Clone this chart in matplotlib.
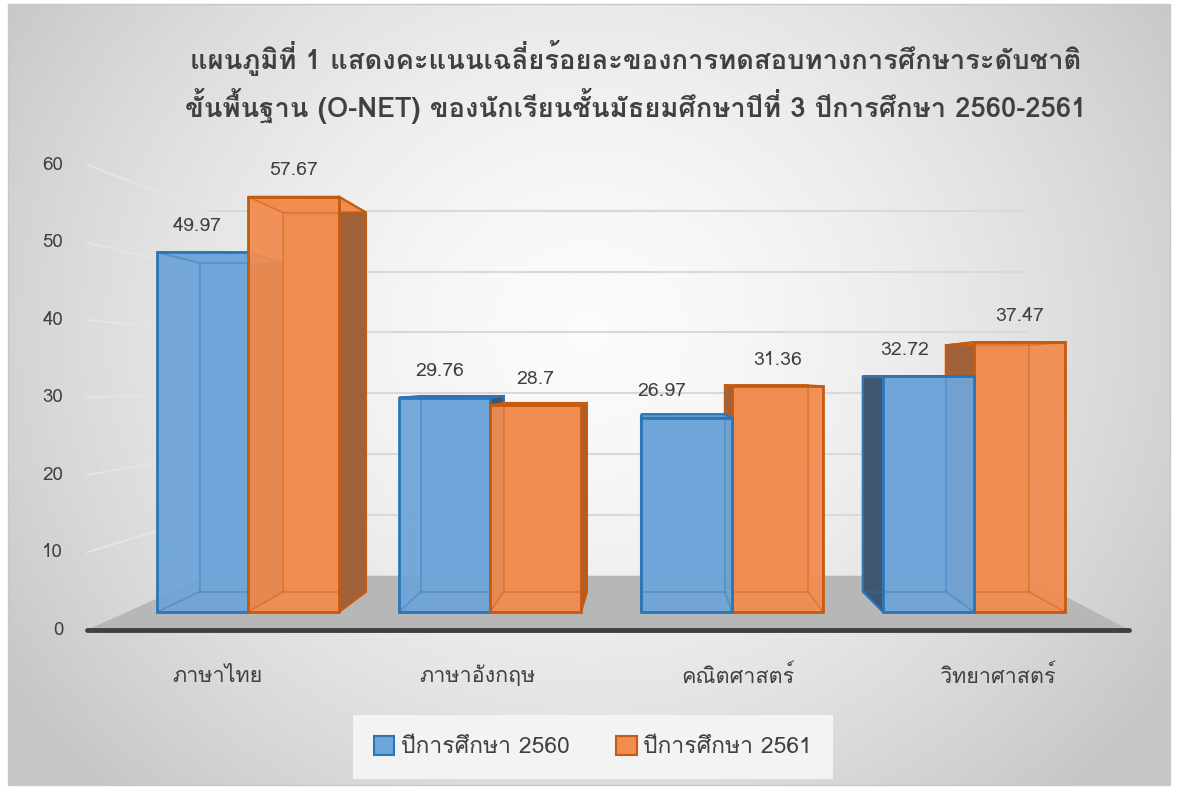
import numpy as np
import matplotlib
matplotlib.use("Agg")
import matplotlib.pyplot as plt
from matplotlib import font_manager
from matplotlib.ft2font import FT2Font
from matplotlib.patches import Polygon, Rectangle, Patch

# ---- data ----
categories = ["ภาษาไทย", "ภาษาอังกฤษ", "คณิตศาสตร์", "วิทยาศาสตร์"]
series_names = ["ปีการศึกษา 2560", "ปีการศึกษา 2561"]
scores_2560 = [49.97, 29.76, 26.97, 32.72]
scores_2561 = [57.67, 28.7, 31.36, 37.47]
yticks = [0, 10, 20, 30, 40, 50, 60]
title = ("แผนภูมิที่ 1 แสดงคะแนนเฉลี่ยร้อยละของการทดสอบทางการศึกษาระดับชาติ\n"
         "ขั้นพื้นฐาน (O-NET) ของนักเรียนชั้นมัธยมศึกษาปีที่ 3 ปีการศึกษา 2560-2561")

# ---- find a font that has Thai glyphs ----
thai_font = None
for f in font_manager.fontManager.ttflist:
    try:
        if ord("ก") in FT2Font(f.fname).get_charmap():
            thai_font = f.name
            break
    except Exception:
        pass
fams = [thai_font, "DejaVu Sans"] if thai_font else ["DejaVu Sans"]
plt.rcParams["font.family"] = fams

# ---- 3d look: simple perspective towards a vanishing point ----
VX, VY = 1.66, 32.5          # vanishing point (category units, value units)
S_TICK, S_FRONT, S_BACK, S_WALL = 1.076, 1.0, 0.913, 0.845
BAR_W = 0.376


def P(x, y, s):
    return (VX + (x - VX) * s, VY + (y - VY) * s)


W, H = 1178, 789
fig = plt.figure(figsize=(W / 100, H / 100), dpi=100)

# background gradient
bg = fig.add_axes([8 / W, 4 / H, 1 - 16 / W, 1 - 8 / H], zorder=-5)
yy, xx = np.mgrid[0:1:300j, 0:1:450j]
d = np.sqrt(((xx - 0.5) / 0.55) ** 2 + ((yy - 0.42) / 0.75) ** 2)
g = np.clip(0.985 - 0.18 * d ** 1.6, 0.78, 1)
bg.imshow(np.dstack([g, g, g]), aspect="auto", extent=[0, 1, 1, 0])
bg.axis("off")
fig.patches.append(Rectangle((8 / W, 4 / H), 1 - 16 / W, 1 - 8 / H, transform=fig.transFigure,
                             fill=False, edgecolor="#c8c8c8", lw=1))

ax = fig.add_axes([0, 0, 1, 1])
ax.set_facecolor("none")
ax.set_xlim((0 - 248) / 242, (W - 248) / 242)
ax.set_ylim((612 - H) / 7.2, 612 / 7.2)
ax.axis("off")

n = len(categories)
xl, xr = -0.5, n - 0.5

# floor
floor = [P(xl, 0, S_TICK), P(xr, 0, S_TICK), P(xr, 0, S_WALL), P(xl, 0, S_WALL)]
ax.add_patch(Polygon(floor, closed=True, facecolor="#b7b7b7", edgecolor="none", zorder=1))
fx0, fy0 = P(xl, 0, S_TICK)
fx1, _ = P(xr, 0, S_TICK)
ax.plot([fx0, fx1], [fy0, fy0], color="#404040", lw=3.5, solid_capstyle="round", zorder=2)

# gridlines + tick labels
for t in yticks:
    a = P(xl, t, S_TICK)
    b = P(xl, t, S_WALL)
    c = P(xr, t, S_WALL)
    if t > 0:
        ax.plot([a[0], b[0]], [a[1], b[1]], color="#e4e4e4", lw=1.5, zorder=1)
        ax.plot([b[0], c[0]], [b[1], c[1]], color="#d9d9d9", lw=1.5, zorder=1)
    ax.text(a[0] - 24 / 242, a[1], str(t), ha="right", va="center", fontsize=13.5, color="#404040")

# bars
series = [
    (scores_2560, -BAR_W / 2, "#6fa5d8", "#2e75b6", "#3e5670"),
    (scores_2561, BAR_W / 2, "#f08c50", "#c55a11", "#a0623a"),
]
label_dx = [[-0.02, -0.02, -0.1, -0.1], [0, 0, 0, 0]]

bars = []
for si, (vals, off, fc, ec, sc) in enumerate(series):
    for i, h in enumerate(vals):
        cx = i + off
        bars.append((abs(cx - VX), cx, h, fc, ec, sc))
bars.sort(key=lambda b: -b[0])

z = 3
for _, cx, h, fc, ec, sc in bars:
    x0, x1 = cx - BAR_W / 2, cx + BAR_W / 2
    back = [P(x0, 0, S_BACK), P(x1, 0, S_BACK), P(x1, h, S_BACK), P(x0, h, S_BACK)]
    front = [P(x0, 0, S_FRONT), P(x1, 0, S_FRONT), P(x1, h, S_FRONT), P(x0, h, S_FRONT)]
    xs = x1 if cx < VX else x0
    side = [P(xs, 0, S_FRONT), P(xs, 0, S_BACK), P(xs, h, S_BACK), P(xs, h, S_FRONT)]
    top = [P(x0, h, S_FRONT), P(x1, h, S_FRONT), P(x1, h, S_BACK), P(x0, h, S_BACK)]
    ax.add_patch(Polygon(back, facecolor=fc, edgecolor=ec, lw=1.2, alpha=0.9, zorder=z))
    ax.add_patch(Polygon(side, facecolor=sc, edgecolor=ec, lw=1.5, zorder=z + 0.1))
    ax.add_patch(Polygon(top, facecolor=fc, edgecolor=ec, lw=1.5, zorder=z + 0.2))
    ax.add_patch(Polygon(front, facecolor=fc, edgecolor="none", alpha=0.95, zorder=z + 0.3))
    # hidden edges seen through
    for k in range(4):
        ax.plot([front[k][0], back[k][0]], [front[k][1], back[k][1]], color=ec, lw=1.2,
                alpha=0.4, zorder=z + 0.35)
    ax.add_patch(Polygon(back, fill=False, edgecolor=ec, lw=1.2, alpha=0.4, zorder=z + 0.35))
    ax.add_patch(Polygon(front, fill=False, edgecolor=ec, lw=2, zorder=z + 0.4))
    z += 1

# value labels
for si, (vals, off, *_rest) in enumerate(series):
    for i, h in enumerate(vals):
        ax.text(i + off + label_dx[si][i], h + 3.7, f"{h:g}", ha="center", va="center",
                fontsize=14, color="#404040", zorder=20)

# category labels
for i, c in enumerate(categories):
    px, py = P(i, 0, S_TICK)
    ax.text(px, py - 6.5, c, ha="center", va="center", fontsize=15.5, color="#404040")

fig.text(0.54, 1 - 82 / H, title, ha="center", va="center", fontsize=19.7, fontweight="bold",
         color="#404040", linespacing=1.4)

handles = [Patch(facecolor=s[2], edgecolor=s[3], lw=1.5) for s in series]
fig.legend(handles, series_names, loc="center", bbox_to_anchor=(593 / W, 1 - 747 / H), ncol=2,
           fontsize=16.5, frameon=True, facecolor="#f3f3f3", edgecolor="none", framealpha=1,
           fancybox=False, handlelength=0.9, handleheight=0.9, handletextpad=0.3,
           columnspacing=2.0, borderpad=0.9, borderaxespad=0, labelcolor="#404040")

fig.savefig("out.png", dpi=100)
